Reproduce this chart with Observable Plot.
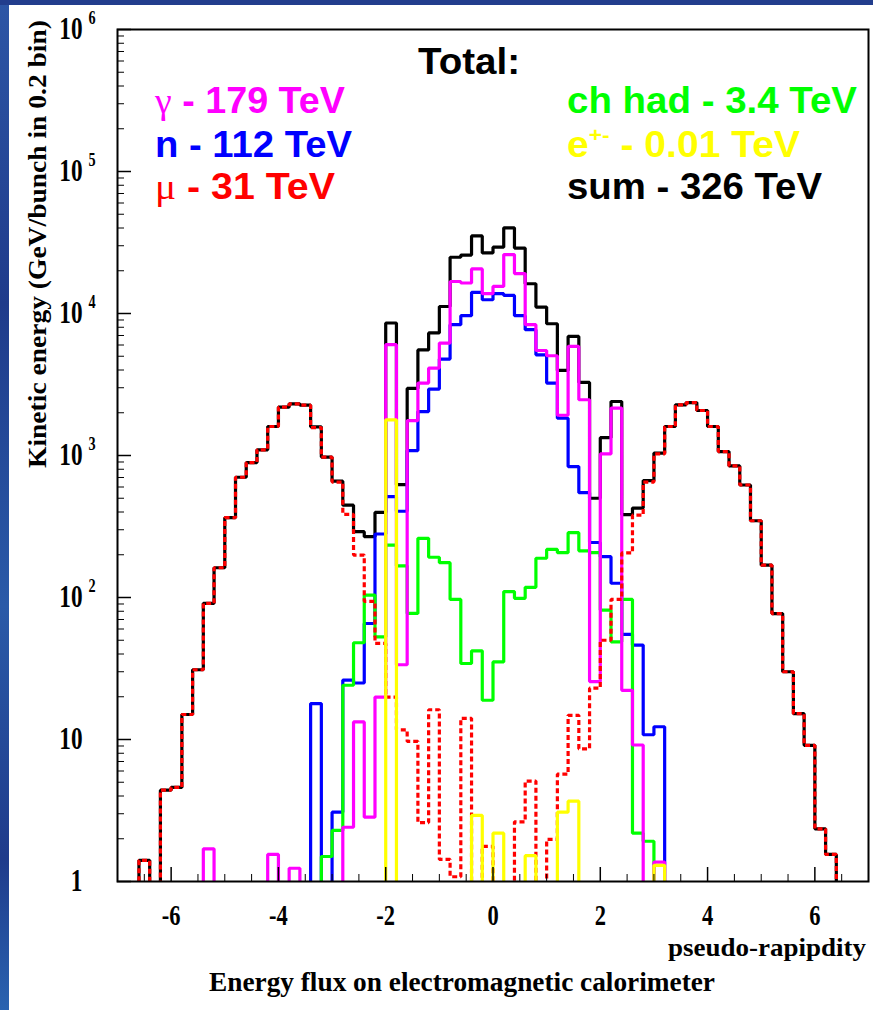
<!DOCTYPE html>
<html><head><meta charset="utf-8">
<script src="https://cdn.jsdelivr.net/npm/d3@7"></script>
<script src="https://cdn.jsdelivr.net/npm/@observablehq/plot@0.6"></script>
<style>
html,body{margin:0;padding:0;background:#fff;}
#wrap{position:relative;width:873px;height:1010px;overflow:hidden;background:#fff;}
#wrap svg{position:absolute;left:0;top:0;}
.stripL{position:absolute;left:0;top:0;width:9px;height:1010px;background:linear-gradient(#2d56a6,#1f3b8b 30%,#2a5aa8 60%,#1f3b8b 85%,#2a63b0);z-index:5}
.stripT{position:absolute;left:0;top:0;width:873px;height:5px;background:#223d8d;z-index:5}
</style></head><body><div id="wrap"></div>
<script>
// ---- binning: 70 bins of width 0.2 in pseudo-rapidity from -7 to 7 ----
const binLow = d3.range(70).map(i => Math.round(-70 + 2 * i) / 10);
const binWidth = 0.2;

// ---- energy per bin (GeV/bunch) ----
const sumFlux = [
0,0,1.41,0,4.4,4.6,15,31,91,162,
365,703,891,1096,1600,2190,2310,2260,1591,975,
660,447,291,268,397,8570,623,2965,5540,7300,
11200,24900,25800,35200,26700,29300,40100,28900,16200,11100,
8470,3970,6900,3270,500,1335,2400,383,426,666,
1040,1600,2275,2360,2075,1600,1066,845,620,347,
169,77,30,15.2,9.1,2.35,1.55,0,0,0];

const photons = [
0,0,0,0,0,0,0,0,1.70,0,
0,0,0,0,1.55,0,1.24,0,0,0,
0,2.41,13.3,2.84,19.9,6030,33.6,1763,3235,4130,
6190,16800,16400,20600,13800,15500,26000,19100,8340,5490,
5040,1920,5860,2470,25.6,1026,2157,22.2,9.15,0,
1.37,0,0,0,0,0,0,0,0,0,
0,0,0,0,0,0,0,0,0,0];

const neutrons = [
0,0,0,0,0,0,0,0,0,0,
0,0,0,0,0,0,0,0,17.9,0,
3.08,26.2,25,65.6,280,513,405,1084,2040,2935,
4775,8340,9650,14100,12500,13800,13400,9650,7690,5120,
3235,1833,835,547,244,194,126,55,46.2,10.8,
12.3,0,0,0,0,0,0,0,0,0,
0,0,0,0,0,0,0,0,0,0];

const muons = [
0,0,1.41,0,4.4,4.6,15,31,91,162,
365,703,891,1096,1600,2190,2310,2260,1573,973,
650,385,199,94,47.5,19.9,11.7,9.7,2.6,16.2,
1.43,1.08,14.1,0,1.77,0,0,2.63,5.1,0,
1.98,5.7,14.8,8.6,23,50,97,206,380,650,
1026,1600,2275,2360,2075,1600,1066,845,620,347,
169,77,30,15.2,9.1,2.35,1.55,0,0,0];

const chargedHadrons = [
0,0,0,0,0,0,0,0,0,0,
0,0,0,0,0,0,0,0,0,1.50,
2.29,24.1,48,104,52.8,234,167,77.3,261,192,
176,97,34.3,42.1,18.9,35.2,110,98.6,118,189,
218,207,286,213,207,81.5,48.7,97,2.19,1.92,
0,0,0,0,0,0,0,0,0,0,
0,0,0,0,0,0,0,0,0,0];

const electrons = [
0,0,0,0,0,0,0,0,0,0,
0,0,0,0,0,0,0,0,0,0,
0,0,0,0,0,1783,0,0,0,0,
0,0,0,2.92,0,2.19,0,0,1.52,0,
0,3.08,3.68,0,0,0,0,0,0,0,
1.30,0,0,0,0,0,0,0,0,0,
0,0,0,0,0,0,0,0,0,0];

// ---- ticks / labels ----
const xTickLabels = [-6, -4, -2, 0, 2, 4, 6];
const xMinorTicks = [-6.5,-5.5,-5,-4.5,-3.5,-3,-2.5,-1.5,-1,-0.5,0.5,1,1.5,2.5,3,3.5,4.5,5,5.5,6.5];
const yMajorTicks = [1, 10, 100, 1000, 10000, 100000, 1000000];
const yMantissa = ["1", "10", "10", "10", "10", "10", "10"];
const yExponent = ["", "", "2", "3", "4", "5", "6"];
const yMinorTicks = [1, 10, 100, 1000, 10000, 100000].flatMap(d => [2,3,4,5,6,7,8,9].map(m => m * d));

const legendNames  = ["γ", "n", "μ", "ch had", "e", "sum"];
const legendTotals = ["179 TeV", "112 TeV", "31 TeV", "3.4 TeV", "0.01 TeV", "326 TeV"];

// ---- build step outlines ----
const FLOOR = 0.3; // empty bins fall below the frame and are clipped
function steps(values) {
  const pts = values.map((v, i) => ({eta: binLow[i], e: v > 0 ? v : FLOOR}));
  pts.push({eta: binLow[binLow.length - 1] + binWidth, e: pts[pts.length - 1].e});
  return pts;
}
const series = [
  {values: sumFlux, color: "#000000"},
  {values: neutrons, color: "#0000ff"},
  {values: chargedHadrons, color: "#00ff00"},
  {values: photons, color: "#ff00ff"},
  {values: muons, color: "#ff0000", dash: "5,3"},
  {values: electrons, color: "#ffff00"}
];

const W = 873, H = 1010, mL = 117, mR = 5, mT = 29, mB = 129;
const fw = W - mL - mR, fh = H - mT - mB;
const serif = "Liberation Serif, Times New Roman, serif";
const sans = "Liberation Sans, Arial, Helvetica, sans-serif";

const plot = Plot.plot({
  width: W, height: H,
  marginLeft: mL, marginRight: mR, marginTop: mT, marginBottom: mB,
  style: {background: "transparent", overflow: "visible"},
  x: {domain: [-7, 7], axis: null},
  y: {type: "log", domain: [1, 1e6], axis: null},
  marks: [
    ...series.map(s => Plot.line(steps(s.values), {
      x: "eta", y: "e", curve: "step-after", stroke: s.color, strokeWidth: 3.2,
      strokeDasharray: s.dash, strokeLinejoin: "miter", strokeLinecap: "butt", clip: true
    })),
    Plot.tickY(yMinorTicks, {y: d => d, insetRight: fw - 7, stroke: "#000", strokeWidth: 1}),
    Plot.tickY(yMajorTicks, {y: d => d, insetRight: fw - 14, stroke: "#000", strokeWidth: 1.5}),
    Plot.tickX(xMinorTicks, {x: d => d, insetTop: fh - 7, stroke: "#000", strokeWidth: 1}),
    Plot.tickX(xTickLabels, {x: d => d, insetTop: fh - 14, stroke: "#000", strokeWidth: 1.5}),
    Plot.frame({stroke: "#000", strokeWidth: 2}),
    Plot.text(xTickLabels, {x: d => d, frameAnchor: "bottom", text: d => String(d), lineAnchor: "bottom",
      dy: 43, fontSize: 30, fontWeight: "bold", fontFamily: serif, fill: "#000"}),
    Plot.text(yMajorTicks, {y: d => d, frameAnchor: "left", text: (d, i) => yMantissa[i], textAnchor: "end",
      lineAnchor: "middle", dx: -35, fontSize: 31, fontWeight: "bold", fontFamily: serif, fill: "#000"}),
    Plot.text(yMajorTicks, {y: d => d, frameAnchor: "left", text: (d, i) => yExponent[i], textAnchor: "start",
      lineAnchor: "middle", dx: -29, dy: -12, fontSize: 19, fontWeight: "bold", fontFamily: serif, fill: "#000"})
  ]
});
// condensed look of the tick labels
plot.querySelectorAll("text").forEach(t => {
  const tr = t.getAttribute("transform") || "";
  t.setAttribute("transform", tr + " scale(0.75,1)");
});

const wrap = document.getElementById("wrap");
wrap.appendChild(plot);

// ---- overlay: titles, legend, axis titles ----
const ov = d3.create("svg").attr("width", W).attr("height", H)
  .style("position", "absolute").style("left", 0).style("top", 0);

function txt(x, y, len, size, family, weight, fill, parts, anchor = "start", transform = null) {
  const t = ov.append("text").attr("x", x).attr("y", y)
    .attr("font-size", size).attr("font-family", family).attr("font-weight", weight)
    .attr("fill", fill).attr("text-anchor", anchor);
  if (len) t.attr("textLength", len).attr("lengthAdjust", "spacingAndGlyphs");
  if (transform) t.attr("transform", transform);
  for (const p of parts) {
    const s = t.append("tspan").text(p.s);
    if (p.family) s.attr("font-family", p.family);
    if (p.weight) s.attr("font-weight", p.weight);
    if (p.size) s.attr("font-size", p.size);
    if (p.dy) s.attr("dy", p.dy);
  }
  return t;
}
const greek = {family: serif, weight: "normal"};
txt(418, 74, 102, 36, sans, "bold", "#000", [{s: "Total:"}]);
txt(155, 113, 190, 36, sans, "bold", "#ff00ff", [{s: legendNames[0], ...greek}, {s: " - " + legendTotals[0]}]);
txt(155, 157, 197, 36, sans, "bold", "#0000ff", [{s: legendNames[1] + " - " + legendTotals[1]}]);
txt(155, 199, 180, 36, sans, "bold", "#ff0000", [{s: legendNames[2], ...greek}, {s: " - " + legendTotals[2]}]);
txt(567, 113, 290, 36, sans, "bold", "#00ff00", [{s: legendNames[3] + " - " + legendTotals[3]}]);
txt(567, 157, 233, 36, sans, "bold", "#ffff00", [{s: legendNames[4]}, {s: "+-", size: 21, dy: -15}, {s: " - " + legendTotals[4], dy: 15}]);
txt(567, 199, 255, 36, sans, "bold", "#000", [{s: legendNames[5] + " - " + legendTotals[5]}]);

txt(0, 0, 448, 25, serif, "bold", "#000", [{s: "Kinetic energy (GeV/bunch in 0.2 bin)"}], "middle", "translate(46,244) rotate(-90)");
txt(866, 956, 198, 26, serif, "bold", "#000", [{s: "pseudo-rapipdity"}], "end");
txt(209, 991, 506, 28, serif, "bold", "#000", [{s: "Energy flux on electromagnetic calorimeter"}]);

wrap.appendChild(ov.node());

const sl = document.createElement("div"); sl.className = "stripL"; wrap.appendChild(sl);
const st = document.createElement("div"); st.className = "stripT"; wrap.appendChild(st);
</script></body></html>
